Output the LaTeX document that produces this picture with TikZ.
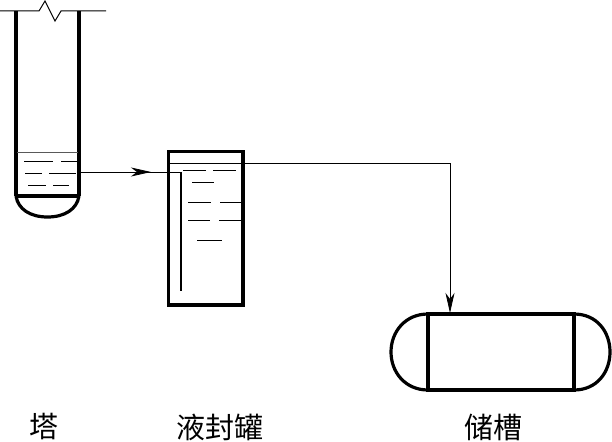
\documentclass[tikz,border=0pt]{standalone}
\usepackage{fontspec}
\setmainfont{Noto Sans CJK SC}
\usetikzlibrary{arrows.meta,calc}
\tikzset{
  WallLine/.style={line width=3.2pt,black},
  ThinLine/.style={line width=1pt,black},
  LevelLine/.style={line width=0.8pt,black!65},
  PipeLine/.style={line width=0.8pt,black},
  PipeTip/.style={-{Stealth[inset=6pt,length=20pt,width=9pt]}},
  NameLbl/.style={font=\fontsize{29}{29}\selectfont,inner sep=0pt}
}

\begin{document}
\begin{tikzpicture}[x=1pt,y=-1pt]
\useasboundingbox (0,0) rectangle (612,441);

\coordinate (TL) at (16,11);
\coordinate (TR) at (79,11);
\coordinate (TBL) at (16,196);
\coordinate (TBR) at (79,196);
\coordinate (DA) at (168.5,151.5);
\coordinate (DB) at (243,305);
\coordinate (SA) at (428,314);
\coordinate (SB) at (574,390);
\coordinate (PipeIn) at (80,172);
\coordinate (PipeMid) at (151,172);
\coordinate (PipeTurn) at (181,172);
\coordinate (PipeEnd) at (181,291);
\coordinate (OutA) at (243,163);
\coordinate (OutB) at (450,163);
\coordinate (OutC) at (450,313);

% tower
\draw[ThinLine] (0,11) -- (39,11) -- (45,1) -- (55,21) -- (61,11) -- (106,11);
\draw[WallLine] (TL) -- (TBL);
\draw[WallLine] (TR) -- (TBR);
\draw[WallLine] (TBL) -- (TBR);
\draw[WallLine] (TBL) .. controls (18,209) and (30,217) .. (47.5,217)
  .. controls (65,217) and (77,209) .. (TBR);
\draw[LevelLine] (17,152) -- (78,152);
\foreach \xa/\xb/\yy in {24/53/161,61/77/161,25/42/173,49/76/173,28/46/185,53/69/185}
  \draw[ThinLine] (\xa,\yy) -- (\xb,\yy);

% seal drum
\draw[WallLine] (DA) rectangle (DB);
\draw[PipeLine] (168,163) -- (OutA);
\draw[line width=1.6pt] (PipeTurn) -- (PipeEnd);
\foreach \xa/\xb/\yy in {183/206/170,213/236/170,192/214/182,188/211/202,220/243/202,188/210/220,219/243/220,197/222/240}
  \draw[ThinLine] (\xa,\yy) -- (\xb,\yy);

% tank
\draw[WallLine] (SA) rectangle (SB);
\draw[WallLine] (SA) .. controls (405,314) and (391,332) .. (391,352)
  .. controls (391,372) and (405,390) .. (428,390);
\draw[WallLine] (574,314) .. controls (597,314) and (610,332) .. (610,352)
  .. controls (610,372) and (597,390) .. (574,390);

% pipes
\draw[PipeLine] (PipeIn) -- (PipeTurn);
\draw[PipeLine,PipeTip] (PipeIn) -- (PipeMid);
\draw[PipeLine,PipeTip] (OutA) -- (OutB) -- (OutC);

\node[NameLbl] (LblTower) at (44,427) {塔};
\node[NameLbl] (LblDrum) at (220,427) {液封罐};
\node[NameLbl] (LblTank) at (493,427) {储槽};
\end{tikzpicture}
\end{document}
